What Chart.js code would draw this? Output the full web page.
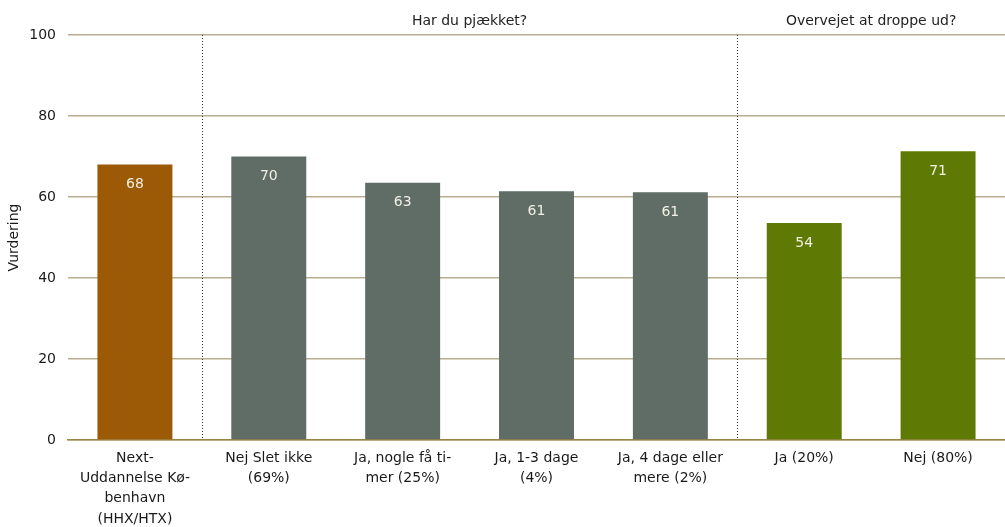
<!DOCTYPE html>
<html>
<head>
<meta charset="utf-8">
<script src="https://cdn.jsdelivr.net/npm/chart.js@4"></script>
<style>
  html, body { margin: 0; padding: 0; background: #fff; }
  #wrap { width: 1005px; height: 527px; }
</style>
</head>
<body>
<div id="wrap"><canvas id="chart" width="1005" height="527"></canvas></div>
<script>
// chart data
const categories = [
  ['Next-', 'Uddannelse Kø-', 'benhavn', '(HHX/HTX)'],
  ['Nej Slet ikke', '(69%)'],
  ['Ja, nogle få ti-', 'mer (25%)'],
  ['Ja, 1-3 dage', '(4%)'],
  ['Ja, 4 dage eller', 'mere (2%)'],
  'Ja (20%)',
  'Nej (80%)'
];
const values = [68, 70, 63.5, 61.4, 61.2, 53.6, 71.3];
const valueLabels = ['68', '70', '63', '61', '61', '54', '71'];
const barColors = ['#9c5a06', '#5f6d66', '#5f6d66', '#5f6d66', '#5f6d66', '#5f7a04', '#5f7a04'];
const groupTitles = ['Har du pjækket?', 'Overvejet at droppe ud?'];
const groupRanges = [[1, 4], [5, 6]];
const yTicks = [0, 20, 40, 60, 80, 100];

const fontName = "'DejaVu Sans', Verdana, sans-serif";

// value labels + dotted separators + group headers
const extrasPlugin = {
  id: 'extras',
  afterDatasetsDraw(chart) {
    const ctx = chart.ctx;
    const meta = chart.getDatasetMeta(0);
    const x = chart.scales.x;
    const y = chart.scales.y;
    ctx.save();
    ctx.font = '14px ' + fontName;
    ctx.fillStyle = '#f2efe4';
    ctx.textAlign = 'center';
    ctx.textBaseline = 'middle';
    meta.data.forEach((bar, i) => {
      ctx.fillText(valueLabels[i], bar.x, bar.y + 20);
    });

    // dotted lines between groups
    ctx.strokeStyle = '#333';
    ctx.lineWidth = 1;
    ctx.setLineDash([1, 2]);
    groupRanges.forEach(r => {
      const sx = Math.round((x.getPixelForValue(r[0] - 1) + x.getPixelForValue(r[0])) / 2) + 0.5;
      ctx.beginPath();
      ctx.moveTo(sx, y.getPixelForValue(100));
      ctx.lineTo(sx, y.getPixelForValue(0));
      ctx.stroke();
    });
    ctx.setLineDash([]);

    // group titles
    ctx.fillStyle = '#222';
    ctx.font = '14px ' + fontName;
    groupRanges.forEach((r, i) => {
      const cx = (x.getPixelForValue(r[0]) + x.getPixelForValue(r[1])) / 2;
      ctx.fillText(groupTitles[i], cx, 21);
    });
    ctx.restore();
  }
};

new Chart(document.getElementById('chart'), {
  type: 'bar',
  data: {
    labels: categories,
    datasets: [{
      data: values,
      backgroundColor: barColors,
      barPercentage: 0.56,
      categoryPercentage: 1
    }]
  },
  options: {
    responsive: false,
    animation: false,
    layout: { padding: { top: 35, right: 0, left: 6, bottom: 0 } },
    plugins: {
      legend: { display: false },
      tooltip: { enabled: false }
    },
    scales: {
      x: {
        afterFit(scale) { scale.height = 87; },
        grid: { display: false },
        border: { color: '#9c8444', width: 1.5 },
        ticks: {
          color: '#1a1a1a',
          font: { size: 14, family: fontName, lineHeight: 1.45 },
          maxRotation: 0,
          autoSkip: false,
          padding: 0
        }
      },
      y: {
        min: 0,
        max: 100,
        afterFit(scale) { scale.width = 62; },
        afterBuildTicks(scale) { scale.ticks = yTicks.map(v => ({ value: v })); },
        border: { display: false },
        grid: {
          color: '#b8ad8e',
          lineWidth: 1.5,
          drawTicks: false
        },
        ticks: {
          color: '#1a1a1a',
          font: { size: 14, family: fontName },
          padding: 12
        },
        title: {
          display: true,
          text: 'Vurdering',
          color: '#1a1a1a',
          font: { size: 14, family: fontName },
          padding: 0
        }
      }
    }
  },
  plugins: [extrasPlugin]
});
</script>
</body>
</html>
